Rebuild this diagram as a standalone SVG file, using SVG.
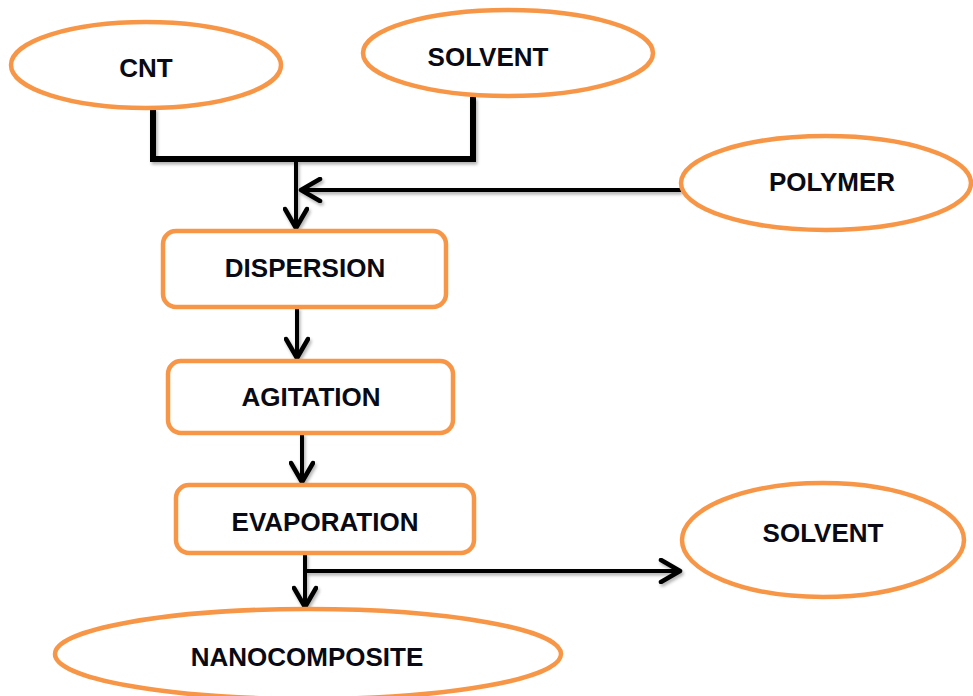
<svg xmlns="http://www.w3.org/2000/svg" width="973" height="696" viewBox="0 0 973 696">
<defs>
<style>
.node{fill:#ffffff;stroke:#F79646;stroke-width:4.5}
.lbl{font-family:"Liberation Sans",Arial,sans-serif;font-weight:bold;font-size:26px;fill:#0a0a14;text-anchor:middle}
.wire{fill:none;stroke:#000;stroke-width:4}
.thick{fill:none;stroke:#000;stroke-width:6;stroke-linejoin:miter}
</style>
<marker id="arr" markerUnits="userSpaceOnUse" viewBox="0 0 26 26" markerWidth="26" markerHeight="26" refX="22" refY="13" orient="auto">
<path d="M3,2 L22,13 L3,24" fill="none" stroke="#000" stroke-width="4.5" stroke-linecap="round" stroke-linejoin="round"/>
</marker>
<filter id="sh" x="-5%" y="-20%" width="110%" height="140%">
<feDropShadow dx="1.5" dy="2.5" stdDeviation="1.5" flood-color="#000" flood-opacity="0.3"/>
</filter>
</defs>
<rect width="973" height="696" fill="#ffffff"/>
<g id="connectors" filter="url(#sh)">
<path class="thick" d="M153,108 V159 H473 V97"/>
<path class="wire" d="M296,159 V228" marker-end="url(#arr)"/>
<path class="wire" d="M681,190 H301" marker-end="url(#arr)"/>
<path class="wire" d="M297,307 V358" marker-end="url(#arr)"/>
<path class="wire" d="M302,433 V482" marker-end="url(#arr)"/>
<path class="wire" d="M305,553 V607" marker-end="url(#arr)"/>
<path class="wire" d="M305,571 H680" marker-end="url(#arr)"/>
</g>
<g id="cnt"><ellipse class="node" cx="146" cy="65" rx="135" ry="43"/><text class="lbl" x="146" y="77">CNT</text></g>
<g id="solvent-in"><ellipse class="node" cx="508" cy="53" rx="145" ry="43"/><text class="lbl" x="488" y="66">SOLVENT</text></g>
<g id="polymer"><ellipse class="node" cx="826" cy="183" rx="145" ry="47"/><text class="lbl" x="832" y="191">POLYMER</text></g>
<g id="dispersion"><rect class="node" x="163" y="231" width="283" height="76" rx="13"/><text class="lbl" x="305" y="277">DISPERSION</text></g>
<g id="agitation"><rect class="node" x="168" y="361" width="285" height="72" rx="13"/><text class="lbl" x="311" y="406">AGITATION</text></g>
<g id="evaporation"><rect class="node" x="176" y="485" width="298" height="68" rx="13"/><text class="lbl" x="325" y="531">EVAPORATION</text></g>
<g id="solvent-out"><ellipse class="node" cx="823" cy="540" rx="141" ry="57"/><text class="lbl" x="823" y="542">SOLVENT</text></g>
<g id="nanocomposite"><ellipse class="node" cx="308" cy="654" rx="253" ry="45"/><text class="lbl" x="307" y="666">NANOCOMPOSITE</text></g>
</svg>
